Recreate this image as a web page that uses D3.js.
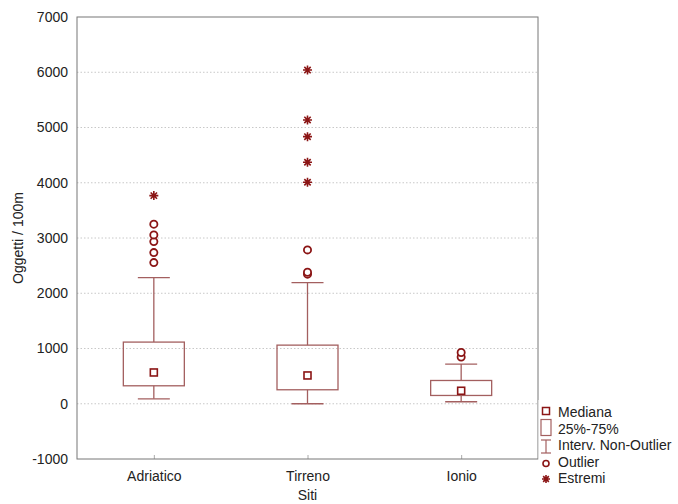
<!DOCTYPE html>
<html>
<head>
<meta charset="utf-8">
<script src="https://cdn.jsdelivr.net/npm/d3@7"></script>
<style>
  html, body { margin: 0; padding: 0; background: #fff; }
  svg { display: block; font-family: "Liberation Sans", Arial, sans-serif; }
</style>
</head>
<body>
<svg id="chart" width="678" height="504"></svg>
<script>
const categories = ["Adriatico", "Tirreno", "Ionio"];
const medians = [566, 512, 235];
const q1 = [325, 253, 150];
const q3 = [1116, 1061, 421];
const whiskerLow = [90, 0, 36];
const whiskerHigh = [2284, 2193, 718];
const outliers = [[2555, 2736, 2935, 3056, 3250], [2345, 2380, 2785], [844, 928]];
const extremes = [[3767], [4009, 4371, 4834, 5136, 6040], []];
const yTicks = [-1000, 0, 1000, 2000, 3000, 4000, 5000, 6000, 7000];
const legendLabels = ["Mediana", "25%-75%", "Interv. Non-Outlier", "Outlier", "Estremi"];

const svg = d3.select("#chart");
const L = 77, R = 538, T = 17, B = 459;
const boxColor = "#a35f5f";
const darkRed = "#8b1515";

const x = d3.scalePoint().domain(categories).range([L, R]).padding(0.5);
const y = d3.scaleLinear().domain([-1000, 7000]).range([B, T]);

// grid
svg.append("g").selectAll("line").data(yTicks.filter(d => d > -1000 && d < 7000)).join("line")
  .attr("x1", L).attr("x2", R).attr("y1", d => y(d)).attr("y2", d => y(d))
  .attr("stroke", "#c8c8c8").attr("stroke-width", 1).attr("stroke-dasharray", "1.5,2");

// y axis
const yAxis = svg.append("g").attr("transform", `translate(${L},0)`)
  .call(d3.axisLeft(y).tickValues(yTicks).tickSize(0).tickPadding(9).tickFormat(d => String(d)));
yAxis.select(".domain").remove();
yAxis.selectAll("text").attr("font-size", 14).attr("fill", "#222").attr("font-family", "Liberation Sans, Arial, sans-serif");

// x axis
const xAxis = svg.append("g").attr("transform", `translate(0,${B})`)
  .call(d3.axisBottom(x).tickSize(-4).tickPadding(12));
xAxis.select(".domain").remove();
xAxis.selectAll("line").attr("stroke", "#aaa");
xAxis.selectAll("text").attr("font-size", 14).attr("fill", "#222").attr("font-family", "Liberation Sans, Arial, sans-serif");

// frame
svg.append("rect").attr("x", L).attr("y", T).attr("width", R - L).attr("height", B - T)
  .attr("fill", "none").attr("stroke", "#777").attr("stroke-width", 1);

// axis titles
svg.append("text").attr("x", (L + R) / 2).attr("y", 500).attr("text-anchor", "middle")
  .attr("font-size", 14).attr("fill", "#222").text("Siti");
svg.append("text").attr("transform", `translate(23,${(T + B) / 2}) rotate(-90)`).attr("text-anchor", "middle")
  .attr("font-size", 14).attr("fill", "#222").text("Oggetti / 100m");

const boxW = 61, capW = 32;
function star(g, cx, cy, s) {
  const p = d3.path();
  for (let a = 0; a < 4; a++) {
    const ang = a * Math.PI / 4;
    p.moveTo(cx - s * Math.cos(ang), cy - s * Math.sin(ang));
    p.lineTo(cx + s * Math.cos(ang), cy + s * Math.sin(ang));
  }
  g.append("path").attr("d", p.toString()).attr("stroke", darkRed).attr("stroke-width", 1.6).attr("fill", "none");
}

categories.forEach((c, i) => {
  const cx = x(c);
  const g = svg.append("g");
  g.append("line").attr("x1", cx).attr("x2", cx).attr("y1", y(whiskerHigh[i])).attr("y2", y(q3[i]))
    .attr("stroke", boxColor).attr("stroke-width", 1.3);
  g.append("line").attr("x1", cx).attr("x2", cx).attr("y1", y(q1[i])).attr("y2", y(whiskerLow[i]))
    .attr("stroke", boxColor).attr("stroke-width", 1.3);
  [whiskerHigh[i], whiskerLow[i]].forEach(v => {
    g.append("line").attr("x1", cx - capW / 2).attr("x2", cx + capW / 2).attr("y1", y(v)).attr("y2", y(v))
      .attr("stroke", boxColor).attr("stroke-width", 1.3);
  });
  g.append("rect").attr("x", cx - boxW / 2).attr("y", y(q3[i])).attr("width", boxW).attr("height", y(q1[i]) - y(q3[i]))
    .attr("fill", "none").attr("stroke", boxColor).attr("stroke-width", 1.3);
  g.append("rect").attr("x", cx - 3.5).attr("y", y(medians[i]) - 3.5).attr("width", 7).attr("height", 7)
    .attr("fill", "#fff").attr("stroke", darkRed).attr("stroke-width", 1.6);
  outliers[i].forEach(v => {
    g.append("circle").attr("cx", cx).attr("cy", y(v)).attr("r", 3.6)
      .attr("fill", "#fff").attr("stroke", darkRed).attr("stroke-width", 1.8);
  });
  extremes[i].forEach(v => star(g, cx, y(v), 4.5));
});

// legend
const lg = svg.append("g");
const lx = 546, baselines = [417, 433.5, 450, 467, 483];
lg.append("rect").attr("x", 538.5).attr("y", 400).attr("width", 139).attr("height", 90).attr("fill", "#fff");
lg.append("rect").attr("x", lx - 3.5).attr("y", 407.5).attr("width", 7).attr("height", 7)
  .attr("fill", "#fff").attr("stroke", darkRed).attr("stroke-width", 1.5);
lg.append("rect").attr("x", lx - 5).attr("y", 419.5).attr("width", 10).attr("height", 16)
  .attr("fill", "none").attr("stroke", boxColor).attr("stroke-width", 1.2);
lg.append("line").attr("x1", lx).attr("x2", lx).attr("y1", 440).attr("y2", 453).attr("stroke", boxColor).attr("stroke-width", 1.2);
[440, 453].forEach(v => lg.append("line").attr("x1", lx - 5).attr("x2", lx + 5).attr("y1", v).attr("y2", v)
  .attr("stroke", boxColor).attr("stroke-width", 1.2));
lg.append("circle").attr("cx", lx).attr("cy", 463.5).attr("r", 3).attr("fill", "#fff").attr("stroke", darkRed).attr("stroke-width", 1.6);
star(lg, lx, 479, 4);
lg.selectAll("text.lbl").data(legendLabels).join("text").attr("class", "lbl")
  .attr("x", 558).attr("y", (d, i) => baselines[i]).attr("font-size", 14).attr("fill", "#222").text(d => d);
</script>
</body>
</html>
